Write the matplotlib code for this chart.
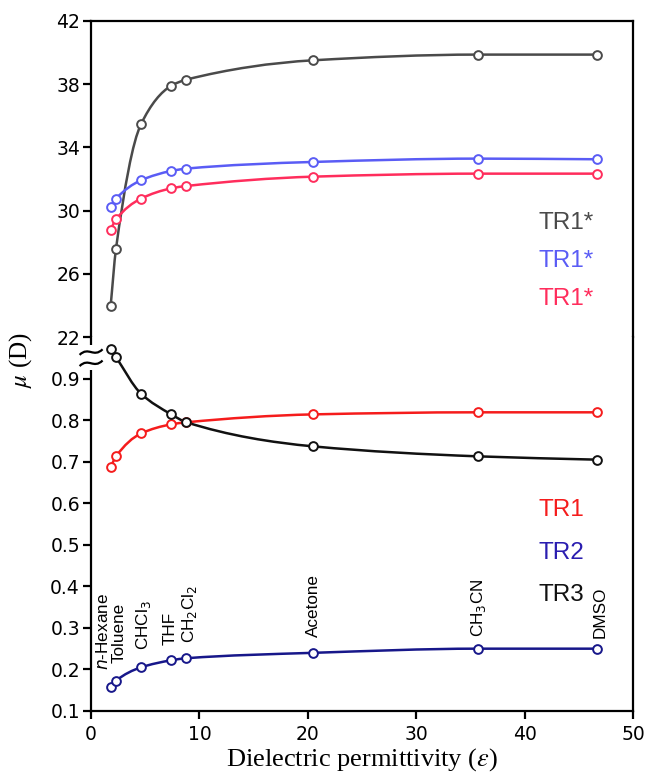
import numpy as np
import matplotlib
matplotlib.use("Agg")
import matplotlib.pyplot as plt
from matplotlib.path import Path
from matplotlib.patches import PathPatch, Rectangle
from matplotlib.transforms import ScaledTranslation

# solvents and their dielectric permittivity
solvents = ['$\\it{n}$-Hexane', 'Toluene', 'CHCl$_3$', 'THF', 'CH$_2$Cl$_2$', 'Acetone', 'CH$_3$CN', 'DMSO']
eps = [1.8, 2.3, 4.6, 7.4, 8.8, 20.5, 35.7, 46.7]

# upper panel (excited states)
tr1s_gray = [23.94, 27.6, 35.46, 37.9, 38.29, 39.51, 39.87, 39.87]
tr1s_blue = [30.25, 30.76, 31.92, 32.51, 32.66, 33.08, 33.29, 33.25]
tr1s_pink = [28.8, 29.45, 30.76, 31.41, 31.56, 32.15, 32.34, 32.34]

# lower panel (ground states)
tr1 = [0.687, 0.713, 0.768, 0.790, 0.795, 0.814, 0.819, 0.819]
tr2 = [0.158, 0.173, 0.205, 0.222, 0.227, 0.240, 0.250, 0.250]
tr3 = [0.972, 0.952, 0.864, 0.814, 0.795, 0.737, 0.713, 0.705]

# where the solvent names sit (x, bottom of text)
label_x = [1.1, 2.6, 4.8, 7.3, 9.1, 20.5, 35.7, 47.0]
label_y = [0.199, 0.215, 0.247, 0.259, 0.264, 0.278, 0.278, 0.275]


def smooth_path(x, y):
    # monotone cubic (pchip style) drawn as bezier segments
    x = np.asarray(x, float)
    y = np.asarray(y, float)
    h = np.diff(x)
    d = np.diff(y) / h
    m = np.zeros_like(y)
    m[0], m[-1] = d[0], d[-1]
    for k in range(1, len(x) - 1):
        if d[k - 1] * d[k] <= 0:
            m[k] = 0
        else:
            w1 = 2 * h[k] + h[k - 1]
            w2 = h[k] + 2 * h[k - 1]
            m[k] = (w1 + w2) / (w1 / d[k - 1] + w2 / d[k])
    verts = [(x[0], y[0])]
    codes = [Path.MOVETO]
    for k in range(len(x) - 1):
        verts += [(x[k] + h[k] / 3, y[k] + m[k] * h[k] / 3),
                  (x[k + 1] - h[k] / 3, y[k + 1] - m[k + 1] * h[k] / 3),
                  (x[k + 1], y[k + 1])]
        codes += [Path.CURVE4] * 3
    return Path(verts, codes)


def draw_series(ax, x, y, color):
    ax.add_patch(PathPatch(smooth_path(x, y), fill=False, edgecolor=color, lw=1.8, zorder=2))
    ax.plot(x, y, ls='none', marker='o', ms=6.3, mfc='white', mec=color, mew=1.4, zorder=3)


plt.rcParams['mathtext.fontset'] = 'stix'

fig = plt.figure(figsize=(6.46, 7.75), dpi=100)
ax_top = fig.add_axes([0.141, 0.565, 0.839, 0.408])
ax_bot = fig.add_axes([0.141, 0.0826, 0.839, 0.4824])

draw_series(ax_top, eps, tr1s_gray, '#4a4a4a')
draw_series(ax_top, eps, tr1s_blue, '#5a5cf5')
draw_series(ax_top, eps, tr1s_pink, '#ff2d5c')

draw_series(ax_bot, eps, tr1, '#f51c1c')
draw_series(ax_bot, eps, tr2, '#17178a')
draw_series(ax_bot, eps, tr3, '#111111')

ax_top.set_xlim(0, 50)
ax_bot.set_xlim(0, 50)
ax_top.set_ylim(22, 42)
ax_bot.set_ylim(0.1, 1.0)
ax_top.set_yticks([22, 26, 30, 34, 38, 42])
ax_bot.set_yticks([0.1, 0.2, 0.3, 0.4, 0.5, 0.6, 0.7, 0.8, 0.9])
ax_bot.set_xticks([0, 10, 20, 30, 40, 50])
ax_top.set_xticks([])

for ax in (ax_top, ax_bot):
    for s in ax.spines.values():
        s.set_linewidth(1.6)
    ax.tick_params(axis='y', direction='out', length=6, width=1.6, labelsize=13.5, pad=2)
    ax.tick_params(axis='x', direction='out', length=6, width=1.6, labelsize=13.5, pad=4)
ax_top.spines['bottom'].set_visible(False)
ax_bot.spines['top'].set_visible(False)

# axis break: cut the left spine and draw two tildes
ax_bot.add_patch(Rectangle((-0.012, 0.912), 0.024, 0.067, transform=ax_bot.transAxes,
                           fc='white', ec='none', clip_on=False, zorder=5))
w, a = 0.115, 0.028
tilde = Path([(-w, -a), (-w * 0.2, 2.2 * a), (w * 0.2, -2.2 * a), (w, a)],
             [Path.MOVETO, Path.CURVE4, Path.CURVE4, Path.CURVE4])
for yb in (0.960, 0.930):
    tr = fig.dpi_scale_trans + ScaledTranslation(0, yb, ax_bot.transAxes)
    ax_bot.add_patch(PathPatch(tilde, transform=tr, fill=False, ec='black', lw=1.6,
                               clip_on=False, zorder=6))

ax_bot.set_xlabel(r'Dielectric permittivity ($\varepsilon$)', family='Liberation Serif',
                  fontsize=19, labelpad=2)
fig.text(0.032, 0.535, r'$\mu$ (D)', rotation=90, ha='center', va='center',
         family='Liberation Serif', fontsize=18)

for name, lx, ly in zip(solvents, label_x, label_y):
    ax_bot.text(lx, ly, name, rotation=90, ha='center', va='bottom', fontsize=12.3,
                family='Liberation Sans', math_fontfamily='dejavusans')

# series names
for txt, yy, c in [('TR1*', 29.2, '#4a4a4a'), ('TR1*', 26.8, '#5a5cf5'), ('TR1*', 24.4, '#ff2d5c')]:
    ax_top.text(41.3, yy, txt, color=c, fontsize=17.5, family='Liberation Sans', va='center')
for txt, yy, c in [('TR1', 0.584, '#f51c1c'), ('TR2', 0.481, '#2a1db0'), ('TR3', 0.380, '#111111')]:
    ax_bot.text(41.3, yy, txt, color=c, fontsize=17.5, family='Liberation Sans', va='center')

fig.savefig('out.png', dpi=100)
